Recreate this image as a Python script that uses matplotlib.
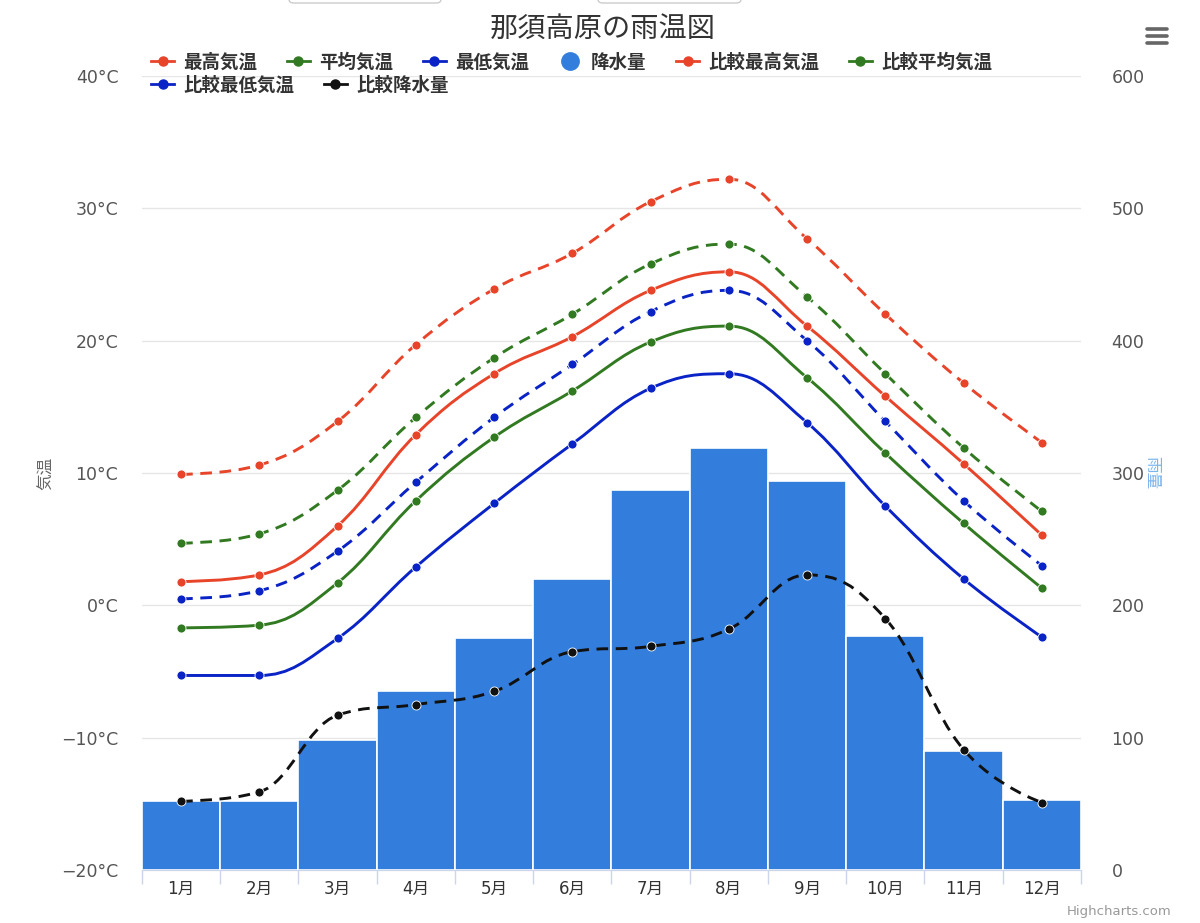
import numpy as np
import matplotlib
matplotlib.use("Agg")
import matplotlib.pyplot as plt
from matplotlib.path import Path
from matplotlib.patches import PathPatch, FancyBboxPatch
from matplotlib.lines import Line2D

plt.rcParams['font.family'] = ['Noto Sans CJK JP', 'DejaVu Sans']
LATIN = ['DejaVu Sans', 'Noto Sans CJK JP']

# data
months = ['1月', '2月', '3月', '4月', '5月', '6月', '7月', '8月', '9月', '10月', '11月', '12月']
t_max = [1.8, 2.3, 6.0, 12.9, 17.5, 20.3, 23.8, 25.2, 21.1, 15.8, 10.7, 5.3]
t_avg = [-1.7, -1.5, 1.7, 7.9, 12.7, 16.2, 19.9, 21.1, 17.2, 11.5, 6.2, 1.3]
t_min = [-5.3, -5.3, -2.5, 2.9, 7.7, 12.2, 16.4, 17.5, 13.8, 7.5, 2.0, -2.4]
rain = [52, 52, 98, 135, 175, 220, 287, 319, 294, 177, 90, 53]
cmp_max = [9.9, 10.6, 13.9, 19.7, 23.9, 26.6, 30.5, 32.2, 27.7, 22.0, 16.8, 12.3]
cmp_avg = [4.7, 5.4, 8.7, 14.2, 18.7, 22.0, 25.8, 27.3, 23.3, 17.5, 11.9, 7.1]
cmp_min = [0.5, 1.1, 4.1, 9.3, 14.2, 18.2, 22.2, 23.8, 20.0, 13.9, 7.9, 3.0]
cmp_rain = [52, 59, 117, 125, 135, 165, 169, 182, 223, 190, 91, 51]

RED = '#e8442a'
GREEN = '#327a21'
BLUE = '#0a23c6'
BLACK = '#111111'
BAR = '#337edc'


def spline_path(xs, ys, smoothing=1.5):
    # highcharts-style spline as cubic bezier segments
    xs = list(map(float, xs))
    ys = list(map(float, ys))
    n = len(xs)
    left = [(x, y) for x, y in zip(xs, ys)]
    right = [(x, y) for x, y in zip(xs, ys)]
    d = smoothing + 1
    for i in range(1, n - 1):
        px, py = xs[i], ys[i]
        lx, ly = xs[i - 1], ys[i - 1]
        nx, ny = xs[i + 1], ys[i + 1]
        lcx = (smoothing * px + lx) / d
        lcy = (smoothing * py + ly) / d
        rcx = (smoothing * px + nx) / d
        rcy = (smoothing * py + ny) / d
        corr = 0
        if rcx != lcx:
            corr = (rcy - lcy) * (rcx - px) / (rcx - lcx) + py - rcy
        lcy += corr
        rcy += corr
        if lcy > ly and lcy > py:
            lcy = max(ly, py)
            rcy = 2 * py - lcy
        elif lcy < ly and lcy < py:
            lcy = min(ly, py)
            rcy = 2 * py - lcy
        if rcy > ny and rcy > py:
            rcy = max(ny, py)
            lcy = 2 * py - rcy
        elif rcy < ny and rcy < py:
            rcy = min(ny, py)
            lcy = 2 * py - rcy
        left[i] = (lcx, lcy)
        right[i] = (rcx, rcy)
    verts = [(xs[0], ys[0])]
    codes = [Path.MOVETO]
    for i in range(1, n):
        verts += [right[i - 1], left[i], (xs[i], ys[i])]
        codes += [Path.CURVE4] * 3
    return Path(verts, codes)


x = np.arange(len(months))

fig = plt.figure(figsize=(12, 9.23), dpi=100)
ax = fig.add_axes([0.1183, 0.0574, 0.7825, 0.8603])
ax2 = ax.twinx()
ax.set_zorder(ax2.get_zorder() + 1)
ax.patch.set_visible(False)

# precipitation bars on right axis
ax2.bar(x, rain, width=1.0, color=BAR, edgecolor='white', linewidth=1.2, zorder=2)
ax2.set_ylim(0, 600)
ax2.set_yticks(np.arange(0, 601, 100))
ax2.grid(axis='y', color='#e6e6e6', linewidth=1)
ax2.set_axisbelow(True)

dash = (4, 2.6)
lw = 2.1
ms = 6.5


def draw(axis, ys, color, dashed, z):
    path = spline_path(x, ys)
    patch = PathPatch(path, facecolor='none', edgecolor=color, linewidth=lw,
                      linestyle=(0, dash) if dashed else '-', zorder=z,
                      capstyle='butt')
    axis.add_patch(patch)
    axis.plot(x, ys, 'o', color=color, markersize=ms, zorder=z + 0.1,
              markeredgecolor='white', markeredgewidth=0.6)


draw(ax2, cmp_rain, BLACK, True, 5)

draw(ax, t_max, RED, False, 4)
draw(ax, t_avg, GREEN, False, 4)
draw(ax, t_min, BLUE, False, 4)
draw(ax, cmp_max, RED, True, 3)
draw(ax, cmp_avg, GREEN, True, 3)
draw(ax, cmp_min, BLUE, True, 3)

ax.set_xlim(-0.5, 11.5)
ax2.set_xlim(-0.5, 11.5)
ax.set_ylim(-20, 40)
ax.set_yticks(np.arange(-20, 41, 10))
ax.set_yticklabels([f'{v}°C'.replace('-', '−') for v in range(-20, 41, 10)], family=LATIN)

ax.set_xticks(np.arange(-0.5, 12, 1))
ax.set_xticklabels([])
ax.set_xticks(x, minor=True)
ax.set_xticklabels(months, minor=True, family=LATIN)
ax2.set_yticks(np.arange(0, 601, 100))
ax2.set_yticklabels([str(v) for v in range(0, 601, 100)], family=LATIN)
ax.tick_params(axis='x', which='major', length=10, color='#ccd6eb', width=1)
ax.tick_params(axis='x', which='minor', length=0, pad=7, labelsize=12, labelcolor='#333333')
ax.tick_params(axis='y', length=0, pad=17, labelsize=12.5, labelcolor='#555555')
ax2.tick_params(axis='y', length=0, pad=22, labelsize=12.5, labelcolor='#555555')
ax2.tick_params(axis='x', length=0, labelbottom=False)

for a in (ax, ax2):
    for s in ('top', 'left', 'right'):
        a.spines[s].set_visible(False)
    a.spines['bottom'].set_color('#ccd6eb')

ax.set_ylabel('気温', fontsize=12, color='#666666', labelpad=4)
ax2.set_ylabel('雨量', fontsize=12, color='#7cb5ec', rotation=270, labelpad=11)

fig.text(0.5025, 1 - 29 / 923, '那須高原の雨温図', ha='center', va='center',
         fontsize=20.3, color='#333333')

# legend (two rows, flowing like highcharts)
def handle(color, circle=False):
    if circle:
        return Line2D([], [], linestyle='none', marker='o', color=BAR, markersize=12.5)
    return Line2D([], [], color=color, linewidth=2, marker='o', markersize=6.5)

names1 = ['最高気温', '平均気温', '最低気温', '降水量', '比較最高気温', '比較平均気温']
h1 = [handle(RED), handle(GREEN), handle(BLUE), handle(BAR, circle=True),
      handle(RED), handle(GREEN)]
names2 = ['比較最低気温', '比較降水量']
h2 = [handle(BLUE), handle(BLACK)]

leg_kw = dict(frameon=False, prop={'weight': 'bold', 'size': 13.3}, handlelength=1.25,
              handletextpad=0.5, columnspacing=1.6, borderpad=0, borderaxespad=0,
              loc='center left')
leg1 = fig.legend(h1, names1, ncol=6, bbox_to_anchor=(151 / 1200, 1 - 62 / 923), **leg_kw)
leg2 = fig.legend(h2, names2, ncol=2, bbox_to_anchor=(151 / 1200, 1 - 85 / 923), **leg_kw)
for leg in (leg1, leg2):
    for t in leg.get_texts():
        t.set_color('#333333')

# export menu icon
for yy in (29, 36, 43):
    fig.add_artist(Line2D([1147 / 1200, 1167 / 1200], [1 - yy / 923] * 2,
                          color='#666666', linewidth=2.6, solid_capstyle='round'))

# cut-off buttons at top edge
for x0, x1 in ((289, 441), (598, 741)):
    fig.add_artist(FancyBboxPatch((x0 / 1200, 1 - 3 / 923), (x1 - x0) / 1200, 0.03,
                                  boxstyle='round,pad=0,rounding_size=0.004',
                                  facecolor='white', edgecolor='#cccccc', linewidth=1,
                                  transform=fig.transFigure))

fig.text(1172 / 1200, 1 - 912 / 923, 'Highcharts.com', ha='right', va='center',
         fontsize=9.5, color='#999999', family=LATIN)

fig.savefig('out.png', dpi=100)
